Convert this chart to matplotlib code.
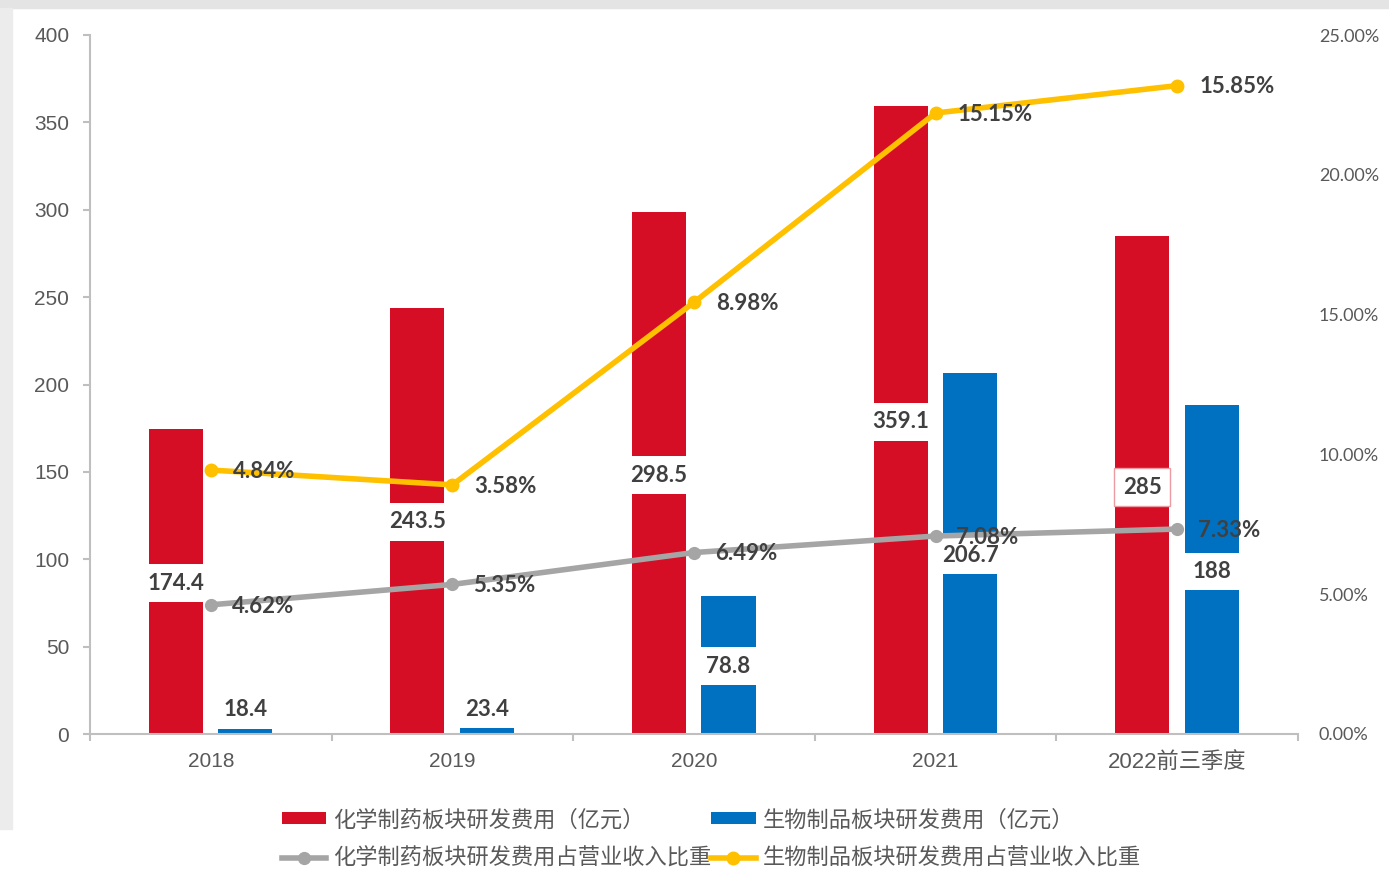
import numpy as np
import matplotlib
matplotlib.use('Agg')
import matplotlib.pyplot as plt
from matplotlib.patches import Rectangle
from matplotlib.ticker import FuncFormatter

# data
years = ['2018', '2019', '2020', '2021', '2022前三季度']
chem_rd = [174.4, 243.5, 298.5, 359.1, 285]
chem_rd_text = ['174.4', '243.5', '298.5', '359.1', '285']
bio_rd = [3.2, 3.2, 78.8, 206.7, 188]          # bar heights as drawn
bio_rd_text = ['18.4', '23.4', '78.8', '206.7', '188']
chem_ratio = [4.62, 5.35, 6.49, 7.08, 7.33]    # % on right axis
chem_ratio_text = ['4.62%', '5.35%', '6.49%', '7.08%', '7.33%']
bio_ratio = [9.44, 8.91, 15.44, 22.21, 23.19]  # % as drawn on right axis
bio_ratio_text = ['4.84%', '3.58%', '8.98%', '15.15%', '15.85%']

legend_names = ['化学制药板块研发费用（亿元）', '化学制药板块研发费用占营业收入比重',
                '生物制品板块研发费用（亿元）', '生物制品板块研发费用占营业收入比重']

# label placement (left-axis units)
chem_lbl_y = [86.4, 121.4, 148.2, 178.6, 141.3]
bio_lbl_y = [13.9, 14.2, 38.9, 102.2, 93.0]

RED = '#D50D25'
BLUE = '#0070C0'
GRAY = '#A5A5A5'
YEL = '#FFC000'
AXC = '#BFBFBF'
TXT = '#404040'
TICK = '#595959'

fig = plt.figure(figsize=(13.89, 8.69), dpi=100)
fig.add_artist(Rectangle((0, 1 - 8 / 869), 1, 8 / 869, transform=fig.transFigure,
                         color='#e4e4e4', zorder=0))
fig.add_artist(Rectangle((0, 40 / 869), 12 / 1389, 1 - 48 / 869, transform=fig.transFigure,
                         color='#ececec', zorder=0))

ax = fig.add_axes([90 / 1389, 135 / 869, 1208 / 1389, 699 / 869])
ax2 = ax.twinx()

x = np.arange(len(years))
w = 0.224
ax.bar(x - 0.145, chem_rd, w, color=RED, zorder=2)
ax.bar(x + 0.143, bio_rd, w, color=BLUE, zorder=2)

lblfont = dict(family=['Lato', 'DejaVu Sans'], weight='bold', size=16, color=TXT)
for i in range(len(years)):
    ec = '#EC9AA4' if chem_rd_text[i] == '285' else 'none'
    ax.text(x[i] - 0.145, chem_lbl_y[i], chem_rd_text[i], ha='center', va='center', zorder=3,
            bbox=dict(boxstyle='square,pad=0.38', fc='white', ec=ec, lw=1), **lblfont)
    ax.text(x[i] + 0.143, bio_lbl_y[i], bio_rd_text[i], ha='center', va='center', zorder=3,
            bbox=dict(boxstyle='square,pad=0.38', fc='white', ec='none'), **lblfont)

ax.set_xlim(-0.5, len(years) - 0.5)
ax.set_ylim(0, 400)
ax.set_yticks(np.arange(0, 401, 50))
ax.set_xticks(x)
ax.set_xticklabels(years)
ax.set_xticks(np.arange(-0.5, len(years), 1), minor=True)
for s in ['top', 'right']:
    ax.spines[s].set_visible(False)
for s in ['left', 'bottom']:
    ax.spines[s].set_color(AXC)
    ax.spines[s].set_linewidth(1.5)
ax.tick_params(axis='y', length=5, width=1.5, color=AXC, pad=10, labelcolor=TICK, labelsize=15)
ax.tick_params(axis='x', which='major', length=0, pad=13, labelcolor=TICK, labelsize=15)
ax.tick_params(axis='x', which='minor', length=5, width=1.5, color=AXC)
for t in ax.get_yticklabels() + ax.get_xticklabels():
    t.set_family(['Liberation Sans', 'Noto Sans CJK SC'])
ax.get_xticklabels()[-1].set_fontsize(16)

l1, = ax2.plot(x, chem_ratio, color=GRAY, lw=4, marker='o', ms=8.5, zorder=4)
l2, = ax2.plot(x, bio_ratio, color=YEL, lw=4, marker='o', ms=9, zorder=4)
for i in range(len(years)):
    ax2.annotate(chem_ratio_text[i], (x[i], chem_ratio[i]), xytext=(15, -1),
                 textcoords='offset points', ha='left', va='center', zorder=5, **lblfont)
    ax2.annotate(bio_ratio_text[i], (x[i], bio_ratio[i]), xytext=(16, -1),
                 textcoords='offset points', ha='left', va='center', zorder=5, **lblfont)

ax2.set_ylim(0, 25)
ax2.set_yticks(np.arange(0, 26, 5))
ax2.yaxis.set_major_formatter(FuncFormatter(lambda v, p: f'{v:.2f}%'))
for s in ax2.spines.values():
    s.set_visible(False)
ax2.tick_params(axis='y', length=0, pad=15, labelcolor=TICK, labelsize=13)
for t in ax2.get_yticklabels():
    t.set_family(['Lato', 'DejaVu Sans'])

b1 = ax.patches[0]
b2 = ax.patches[len(years)]
leg = fig.legend([b1, l1, b2, l2], legend_names, ncol=2, loc='center',
                 bbox_to_anchor=(0.512, 0.0345), frameon=False,
                 prop=dict(family=['Noto Sans CJK SC'], size=16),
                 handlelength=2.0, handleheight=0.45, handletextpad=0.3,
                 columnspacing=0.0, labelspacing=0.7, borderpad=0)
for t in leg.get_texts():
    t.set_color(TICK)

fig.savefig('out.png', dpi=100)
